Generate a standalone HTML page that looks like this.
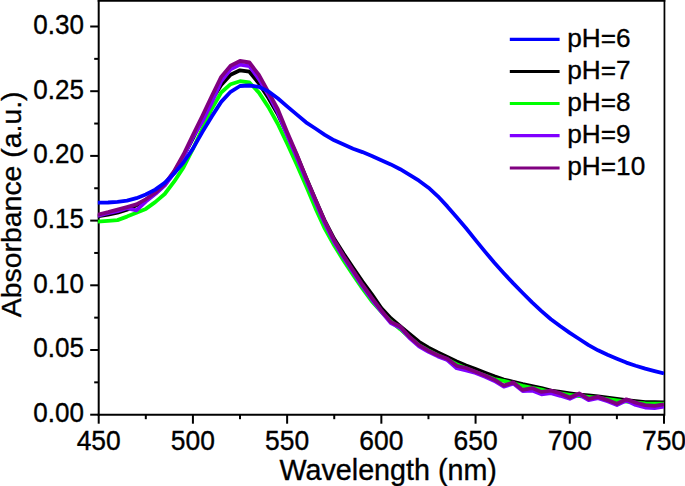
<!DOCTYPE html>
<html><head><meta charset="utf-8"><title>Absorbance vs Wavelength</title>
<style>
html,body{margin:0;padding:0;background:#fff;}
body{width:685px;height:486px;overflow:hidden;position:relative;font-family:"Liberation Sans",sans-serif;}
</style></head><body>
<svg width="685" height="486" viewBox="0 0 685 486" style="position:absolute;left:0;top:0">
<rect x="0" y="0" width="685" height="486" fill="#fff"/>
<g stroke="#000" stroke-width="2.0" fill="none" stroke-linecap="butt">
<path d="M98.7,0 L98.7,415.7"/>
<path d="M664.45,0 L664.45,415.7" stroke-width="1.75"/>
<path d="M97.7,414.7 L665.0,414.7"/>
<path d="M97.7,0.7 L665.3,0.7" stroke-width="1.9"/>
<path d="M98.70,414.7 L98.70,423.7"/>
<path d="M145.81,414.7 L145.81,419.2"/>
<path d="M192.92,414.7 L192.92,423.7"/>
<path d="M240.02,414.7 L240.02,419.2"/>
<path d="M287.13,414.7 L287.13,423.7"/>
<path d="M334.24,414.7 L334.24,419.2"/>
<path d="M381.35,414.7 L381.35,423.7"/>
<path d="M428.46,414.7 L428.46,419.2"/>
<path d="M475.57,414.7 L475.57,423.7"/>
<path d="M522.67,414.7 L522.67,419.2"/>
<path d="M569.78,414.7 L569.78,423.7"/>
<path d="M616.89,414.7 L616.89,419.2"/>
<path d="M664.00,414.7 L664.00,423.7"/>
<path d="M98.7,414.70 L90.2,414.70"/>
<path d="M98.7,382.35 L94.2,382.35"/>
<path d="M98.7,350.00 L90.2,350.00"/>
<path d="M98.7,317.65 L94.2,317.65"/>
<path d="M98.7,285.30 L90.2,285.30"/>
<path d="M98.7,252.95 L94.2,252.95"/>
<path d="M98.7,220.60 L90.2,220.60"/>
<path d="M98.7,188.25 L94.2,188.25"/>
<path d="M98.7,155.90 L90.2,155.90"/>
<path d="M98.7,123.55 L94.2,123.55"/>
<path d="M98.7,91.20 L90.2,91.20"/>
<path d="M98.7,58.85 L94.2,58.85"/>
<path d="M98.7,26.50 L90.2,26.50"/>
</g>
<clipPath id="pc"><rect x="97.8" y="0" width="566.1999999999999" height="414.7"/></clipPath>
<g fill="none" stroke-width="3.8" stroke-linejoin="round" stroke-linecap="butt" clip-path="url(#pc)">
<path d="M97.2,216.3 L108.1,214.6 L117.5,212.7 L127.0,209.8 L136.4,205.4 L145.8,200.0 L155.2,193.5 L164.7,184.8 L174.1,172.3 L183.5,156.2 L192.9,138.3 L202.3,118.9 L211.8,100.1 L221.2,84.9 L230.6,74.8 L240.0,70.3 L249.4,71.7 L258.9,83.4 L268.3,97.7 L277.7,114.0 L287.1,134.2 L296.6,154.8 L306.0,177.4 L315.4,199.6 L324.8,221.0 L334.2,238.8 L343.7,253.8 L353.1,267.8 L362.5,281.6 L371.9,294.3 L381.3,308.0 L390.8,318.2 L400.2,326.2 L409.6,333.9 L419.0,341.8 L428.5,347.6 L437.9,352.5 L447.3,357.0 L456.7,361.4 L466.1,365.4 L475.6,369.1 L485.0,372.7 L494.4,376.3 L503.8,379.5 L513.3,381.8 L522.7,384.2 L532.1,386.1 L541.5,388.0 L550.9,390.6 L560.4,392.0 L569.8,393.4 L579.2,394.6 L588.6,395.5 L598.0,396.5 L607.5,397.7 L616.9,398.9 L626.3,400.1 L635.7,401.2 L645.2,402.1 L654.6,402.2 L664.0,402.3" stroke="#000000"/>
<path d="M97.2,221.6 L108.1,220.9 L117.5,220.1 L127.0,216.6 L136.4,212.8 L145.8,208.9 L155.2,202.1 L164.7,194.0 L174.1,181.7 L183.5,167.4 L192.9,149.0 L202.3,128.8 L211.8,108.8 L221.2,92.5 L230.6,84.2 L240.0,81.2 L249.4,82.5 L258.9,92.6 L268.3,106.9 L277.7,123.7 L287.1,143.5 L296.6,164.2 L306.0,185.8 L315.4,208.1 L324.8,228.6 L334.2,245.6 L343.7,260.7 L353.1,275.0 L362.5,288.7 L371.9,301.5 L381.3,311.8 L390.8,321.3 L400.2,329.2 L409.6,337.6 L419.0,345.1 L428.5,350.5 L437.9,355.2 L447.3,359.5 L456.7,364.2 L466.1,368.2 L475.6,371.9 L485.0,375.6 L494.4,379.1 L503.8,380.8 L513.3,383.4 L522.7,385.9 L532.1,387.9 L541.5,389.7 L550.9,392.0 L560.4,393.4 L569.8,394.8 L579.2,396.0 L588.6,396.9 L598.0,397.9 L607.5,399.1 L616.9,400.4 L626.3,401.6 L635.7,402.6 L645.2,403.5 L654.6,403.6 L664.0,403.7" stroke="#00ff00"/>
<path d="M97.2,215.8 L108.1,213.2 L117.5,211.1 L127.0,208.1 L136.4,210.3 L145.8,201.6 L155.2,194.0 L164.7,185.6 L174.1,173.2 L183.5,156.7 L192.9,137.2 L202.3,121.6 L211.8,102.6 L221.2,81.3 L230.6,69.4 L240.0,64.6 L249.4,66.1 L258.9,79.1 L268.3,94.7 L277.7,112.2 L287.1,135.1 L296.6,157.1 L306.0,179.6 L315.4,201.7 L324.8,223.4 L334.2,242.2 L343.7,257.7 L353.1,272.3 L362.5,286.4 L371.9,299.5 L381.3,311.6 L390.8,323.1 L400.2,327.7 L409.6,338.1 L419.0,346.3 L428.5,351.9 L437.9,356.4 L447.3,360.0 L456.7,368.2 L466.1,370.4 L475.6,372.9 L485.0,376.8 L494.4,380.9 L503.8,386.7 L513.3,383.6 L522.7,391.1 L532.1,390.5 L541.5,394.3 L550.9,393.1 L560.4,395.8 L569.8,398.8 L579.2,394.6 L588.6,400.1 L598.0,398.1 L607.5,401.3 L616.9,405.0 L626.3,400.5 L635.7,405.0 L645.2,407.5 L654.6,408.2 L664.0,406.7" stroke="#8000ff"/>
<path d="M97.2,214.8 L108.1,212.2 L117.5,209.7 L127.0,207.1 L136.4,204.4 L145.8,199.3 L155.2,192.8 L164.7,184.0 L174.1,171.2 L183.5,154.5 L192.9,135.0 L202.3,116.0 L211.8,96.0 L221.2,76.9 L230.6,65.7 L240.0,61.0 L249.4,62.5 L258.9,74.9 L268.3,91.9 L277.7,109.0 L287.1,132.0 L296.6,154.0 L306.0,177.4 L315.4,199.6 L324.8,221.2 L334.2,240.2 L343.7,255.9 L353.1,270.6 L362.5,284.7 L371.9,297.9 L381.3,310.4 L390.8,321.9 L400.2,326.5 L409.6,336.9 L419.0,345.1 L428.5,350.7 L437.9,355.2 L447.3,358.8 L456.7,365.8 L466.1,368.0 L475.6,371.7 L485.0,375.6 L494.4,379.7 L503.8,385.5 L513.3,382.4 L522.7,389.9 L532.1,388.1 L541.5,391.9 L550.9,390.7 L560.4,393.4 L569.8,397.6 L579.2,393.4 L588.6,398.9 L598.0,396.9 L607.5,400.1 L616.9,403.8 L626.3,399.3 L635.7,402.6 L645.2,405.1 L654.6,405.8 L664.0,404.3" stroke="#800080"/>
<path d="M97.2,202.6 L108.1,202.5 L117.5,201.9 L127.0,200.7 L136.4,198.2 L145.8,194.5 L155.2,189.6 L164.7,182.9 L174.1,173.5 L183.5,162.5 L192.9,148.6 L202.3,132.1 L211.8,116.4 L221.2,101.9 L230.6,91.8 L240.0,86.0 L249.4,85.5 L258.9,86.8 L268.3,91.4 L277.7,98.2 L287.1,106.4 L296.6,114.4 L306.0,122.3 L315.4,128.5 L324.8,134.8 L334.2,140.3 L343.7,144.6 L353.1,148.7 L362.5,152.1 L371.9,155.9 L381.3,160.2 L390.8,164.4 L400.2,169.2 L409.6,174.8 L419.0,180.7 L428.5,187.7 L437.9,196.3 L447.3,206.4 L456.7,217.2 L466.1,228.3 L475.6,240.1 L485.0,251.6 L494.4,262.7 L503.8,273.2 L513.3,283.4 L522.7,293.0 L532.1,302.4 L541.5,311.1 L550.9,319.3 L560.4,326.3 L569.8,332.9 L579.2,339.0 L588.6,345.2 L598.0,350.3 L607.5,354.8 L616.9,358.8 L626.3,362.6 L635.7,365.7 L645.2,368.6 L654.6,371.1 L664.0,373.5" stroke="#0000ff"/>
</g>
<g stroke-width="3.2" fill="none">
<path d="M509.8,39.3 L559.6,39.3" stroke="#0000ff"/>
<path d="M509.8,71.5 L559.6,71.5" stroke="#000000"/>
<path d="M509.8,103.5 L559.6,103.5" stroke="#00ff00"/>
<path d="M509.8,135.7 L559.6,135.7" stroke="#8000ff"/>
<path d="M509.8,168.0 L559.6,168.0" stroke="#800080"/>
</g>
<g font-family="Liberation Sans, sans-serif" fill="#000" stroke="#000" stroke-width="0.35" font-size="26.7px">
<text transform="translate(98.7,450.0) scale(0.99,1.06)" text-anchor="middle">450</text>
<text transform="translate(192.9,450.0) scale(0.99,1.06)" text-anchor="middle">500</text>
<text transform="translate(287.1,450.0) scale(0.99,1.06)" text-anchor="middle">550</text>
<text transform="translate(381.3,450.0) scale(0.99,1.06)" text-anchor="middle">600</text>
<text transform="translate(475.6,450.0) scale(0.99,1.06)" text-anchor="middle">650</text>
<text transform="translate(569.8,450.0) scale(0.99,1.06)" text-anchor="middle">700</text>
<text transform="translate(664.0,450.0) scale(0.99,1.06)" text-anchor="middle">750</text>
<text transform="translate(84.0,422.0) scale(0.975,1.045)" text-anchor="end">0.00</text>
<text transform="translate(84.0,357.3) scale(0.975,1.045)" text-anchor="end">0.05</text>
<text transform="translate(84.0,292.6) scale(0.975,1.045)" text-anchor="end">0.10</text>
<text transform="translate(84.0,227.9) scale(0.975,1.045)" text-anchor="end">0.15</text>
<text transform="translate(84.0,163.2) scale(0.975,1.045)" text-anchor="end">0.20</text>
<text transform="translate(84.0,98.5) scale(0.975,1.045)" text-anchor="end">0.25</text>
<text transform="translate(84.0,33.8) scale(0.975,1.045)" text-anchor="end">0.30</text>
</g>
<g font-family="Liberation Sans, sans-serif" fill="#000" stroke="#000" stroke-width="0.35" font-size="26.2px">
<text x="567.3" y="46.6">pH=6</text>
<text x="567.3" y="78.8">pH=7</text>
<text x="567.3" y="110.8">pH=8</text>
<text x="567.3" y="143.0">pH=9</text>
<text x="567.3" y="175.3">pH=10</text>
</g>
<g font-family="Liberation Sans, sans-serif" fill="#000" stroke="#000" stroke-width="0.35">
<text x="388.2" y="479.7" font-size="28.7px" text-anchor="middle">Wavelength (nm)</text>
<text transform="translate(20.7,204.3) rotate(-90)" font-size="28.4px" text-anchor="middle">Absorbance (a.u.)</text>
</g>
</svg>
</body></html>
